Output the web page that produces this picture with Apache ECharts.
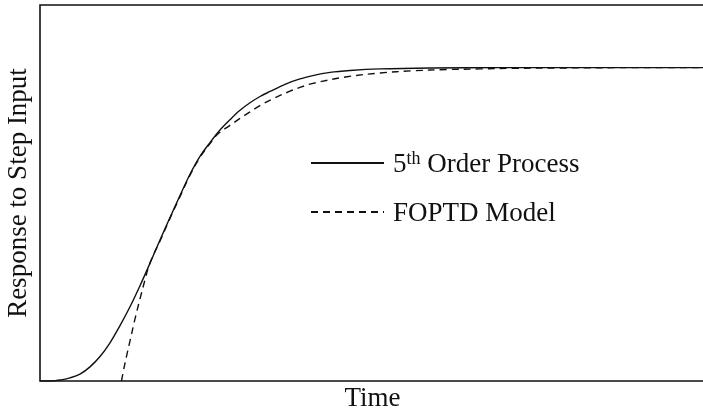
<!DOCTYPE html>
<html>
<head>
<meta charset="utf-8">
<script src="https://cdn.jsdelivr.net/npm/echarts@6/dist/echarts.min.js"></script>
<style>
html,body{margin:0;padding:0;background:#fff;}
#c{width:703px;height:410px;}
</style>
</head>
<body>
<div id="c"></div>
<script>
// 5th order process step response (time, response)
const processTime = [0, 1, 1.5, 2, 3, 4, 5, 6, 7, 8, 9, 10, 11, 12, 13, 14, 15, 16, 17, 18, 19, 20, 21, 22, 23, 24.5, 26, 27.5, 29, 31, 34, 39, 46, 56, 66.5];
const processValue = [0, 0, 0.001, 0.003, 0.010, 0.022, 0.045, 0.078, 0.122, 0.177, 0.237, 0.304, 0.376, 0.450, 0.522, 0.592, 0.660, 0.717, 0.761, 0.801, 0.834, 0.864, 0.888, 0.908, 0.924, 0.947, 0.964, 0.976, 0.985, 0.991, 0.996, 0.999, 1.0, 1.0, 1.0];
// FOPTD model step response (time, response)
const modelTime = [8.15, 8.4, 8.7, 9.0, 9.5, 10.0, 10.5, 11, 12, 13, 14, 15, 16, 17, 17.7, 19, 20, 21, 22, 23.3, 25, 26, 27.3, 30.7, 34, 37.3, 40.7, 44, 47.3, 52, 58, 66.5];
const modelValue = [0, 0.042, 0.086, 0.128, 0.198, 0.262, 0.323, 0.377, 0.447, 0.519, 0.588, 0.657, 0.714, 0.758, 0.786, 0.816, 0.838, 0.859, 0.879, 0.901, 0.925, 0.937, 0.950, 0.971, 0.983, 0.990, 0.994, 0.996, 0.998, 0.999, 1.0, 1.0];
const seriesNames = ['5th Order Process', 'FOPTD Model'];
const xLabel = 'Time';
const yLabel = 'Response to Step Input';

const zip = (a, b) => a.map((v, i) => [v, b[i]]);
const FONT = 'Liberation Serif';
const FS = 27;

const chart = echarts.init(document.getElementById('c'), null, {renderer: 'canvas'});
chart.setOption({
  animation: false,
  backgroundColor: '#fff',
  grid: {left: 40, right: -2, top: 5, bottom: 29, show: true, borderColor: '#111', borderWidth: 1.6,
         backgroundColor: 'transparent', containLabel: false, outerBoundsMode: 'none'},
  xAxis: {
    type: 'value', min: 0, max: 66.5,
    name: xLabel, nameLocation: 'middle', nameGap: 4,
    nameTextStyle: {fontFamily: FONT, fontSize: FS, color: '#111'},
    axisLine: {show: false}, axisTick: {show: false}, axisLabel: {show: false}, splitLine: {show: false}
  },
  yAxis: {
    type: 'value', min: 0, max: 1.2,
    name: yLabel, nameLocation: 'middle', nameRotate: 90, nameGap: 8,
    nameTextStyle: {fontFamily: FONT, fontSize: FS, color: '#111'},
    axisLine: {show: false}, axisTick: {show: false}, axisLabel: {show: false}, splitLine: {show: false}
  },
  legend: {
    orient: 'vertical', left: 310, top: 148, padding: 0,
    itemWidth: 73, itemHeight: 14, itemGap: 22,
    data: seriesNames,
    itemStyle: {color: 'rgba(0,0,0,0)', borderWidth: 0},
    formatter: function (name) {
      if (name === seriesNames[0]) return '{n|5}{s|th}{n| Order Process}';
      return '{n|' + name + '}';
    },
    textStyle: {
      fontFamily: FONT, fontSize: FS, color: '#111', padding: [0, 0, 0, 4],
      rich: {
        n: {fontFamily: FONT, fontSize: FS, color: '#111', lineHeight: 30, verticalAlign: 'bottom'},
        s: {fontFamily: FONT, fontSize: 18, color: '#111', lineHeight: 30, verticalAlign: 'top', padding: [2, 0, 0, 0]}
      }
    }
  },
  series: [
    {
      name: seriesNames[0], type: 'line', data: zip(processTime, processValue),
      smooth: 0.35, symbol: 'none', clip: true,
      lineStyle: {color: '#111', width: 1.4, type: 'solid'},
      itemStyle: {color: '#111'}
    },
    {
      name: seriesNames[1], type: 'line', data: zip(modelTime, modelValue),
      smooth: 0.35, symbol: 'none', clip: true,
      lineStyle: {color: '#111', width: 1.4, type: [7, 5]},
      itemStyle: {color: '#111'}
    }
  ]
});
</script>
</body>
</html>
